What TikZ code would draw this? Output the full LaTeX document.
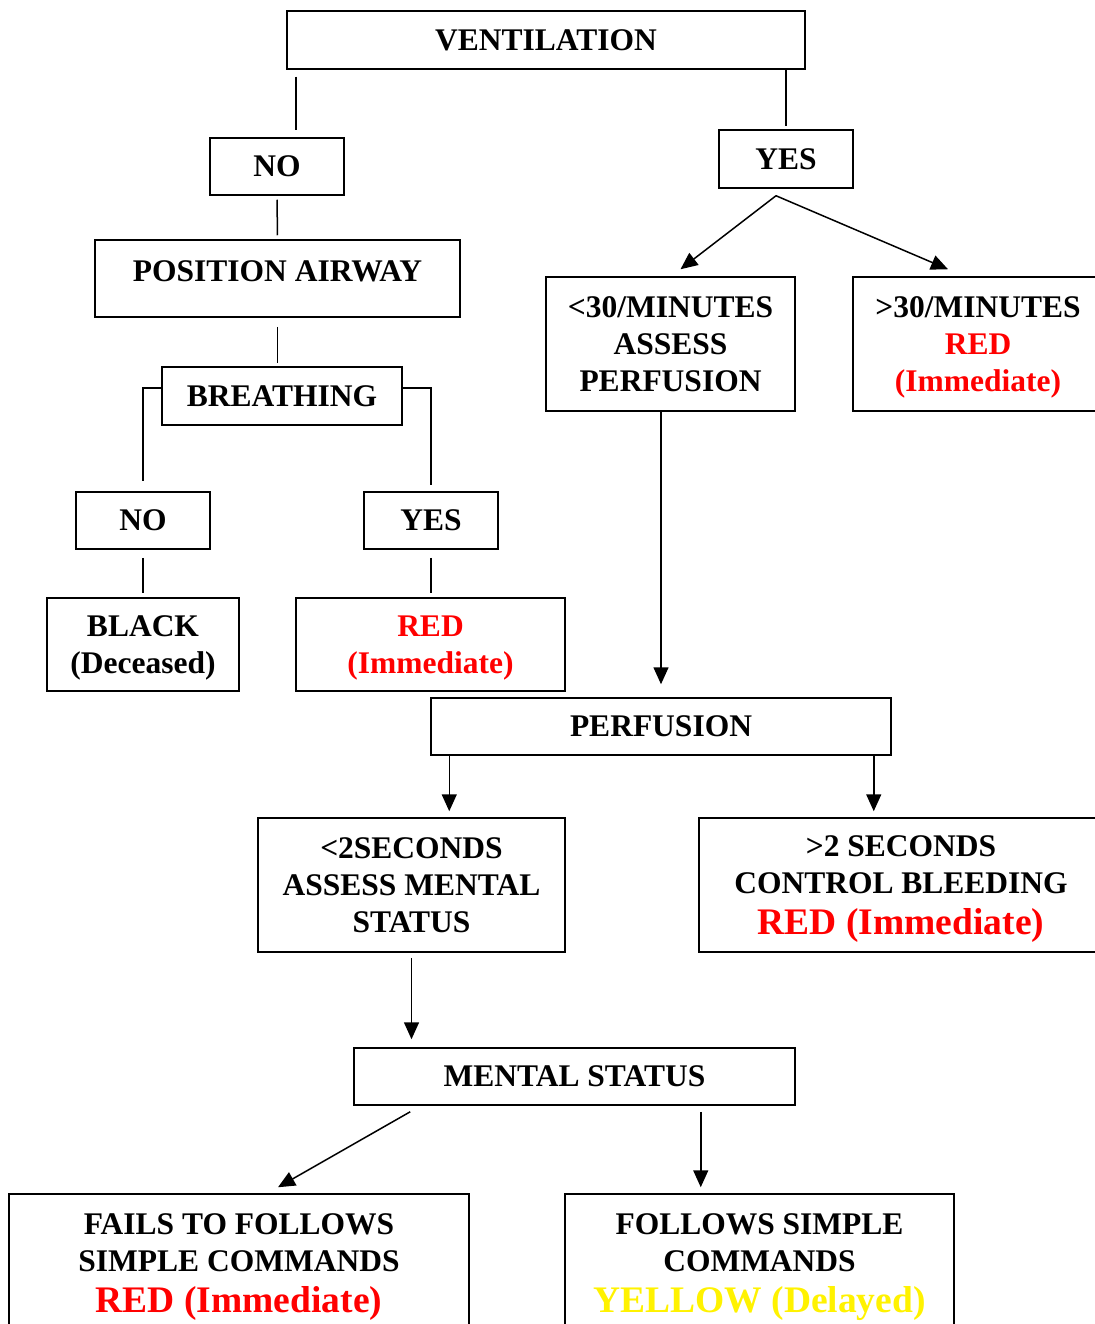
\documentclass[tikz,border=0pt]{standalone}
\usepackage{fontspec}
\setmainfont{Liberation Serif}
\usetikzlibrary{arrows.meta}
\begin{document}
\begin{tikzpicture}[x=1pt,y=-1pt,line width=1.5pt,
  box/.style={draw,line width=1.5pt,align=center,inner sep=0pt,text depth=0pt,font=\fontsize{31.5}{37}\selectfont\bfseries},
  arr/.style={-{Triangle[length=17pt,width=15pt]}}]
\useasboundingbox (0,0) rectangle (1094,1324);
% boxes
\node[box,minimum width=518,minimum height=58] (vent) at (546,40) {VENTILATION};
\node[box,minimum width=134,minimum height=57] (no1) at (277,166.5) {NO};
\node[box,minimum width=134,minimum height=58] (yes1) at (786,159) {YES};
\node[box,minimum width=365,minimum height=77,text depth=15pt] (airway) at (277.5,278.5) {POSITION AIRWAY};
\node[box,minimum width=240,minimum height=58] (breath) at (282,396) {BREATHING};
\node[box,minimum width=134,minimum height=57] (no2) at (143,520.5) {NO};
\node[box,minimum width=134,minimum height=57] (yes2) at (431,520.5) {YES};
\node[box,minimum width=192,minimum height=93,text depth=-3pt] (black) at (143,644.5) {BLACK\\(Deceased)};
\node[box,minimum width=269,minimum height=93,text depth=-3pt,text=red] (red1) at (430.5,644.5) {RED\\(Immediate)};
\node[box,minimum width=249,minimum height=134] (lt30) at (670.5,344) {<30/MINUTES\\ASSESS\\PERFUSION};
\node[box,minimum width=250,minimum height=134] (gt30) at (978,344) {>30/MINUTES\\\textcolor{red}{RED}\\\textcolor{red}{(Immediate)}};
\node[box,minimum width=460,minimum height=57] (perf) at (661,726.5) {PERFUSION};
\node[box,minimum width=307,minimum height=134] (lt2) at (411.5,885) {<2SECONDS\\ASSESS MENTAL\\STATUS};
\node[box,minimum width=404,minimum height=134,text depth=-3pt] (gt2) at (901,885) {>2 SECONDS\\CONTROL BLEEDING\\[4pt]{\fontsize{37.5}{41}\selectfont\color{red}RED (Immediate)}};
\node[box,minimum width=441,minimum height=57] (mental) at (574.5,1076.5) {MENTAL STATUS};
\node[box,minimum width=460,minimum height=138] (fails) at (239,1263) {FAILS TO FOLLOWS\\SIMPLE COMMANDS\\[4pt]{\fontsize{37.5}{41}\selectfont\color{red}RED (Immediate)}};
\node[box,minimum width=389,minimum height=138] (follows) at (759.5,1263) {FOLLOWS SIMPLE\\COMMANDS\\[4pt]{\fontsize{37.5}{41}\selectfont\color{yellow}YELLOW (Delayed)}};
% plain links
\draw[shorten <=7pt,shorten >=7pt] ([xshift=19]no1.north |- vent.south) -- ([xshift=19]no1.north);
\draw[shorten >=3pt] (yes1.north |- vent.south) -- (yes1.north);
\draw[shorten <=4pt,shorten >=4pt] (no1.south) -- (airway.north);
\draw[shorten <=9pt,shorten >=3pt] (airway.south) -- (airway.south |- breath.north);
\draw ([yshift=8]breath.west) -- ([yshift=8]breath.west -| no2.north) -- ([yshift=10]no2.north);
\draw ([yshift=8]breath.east) -- ([yshift=8]breath.east -| yes2.north) -- ([yshift=6]yes2.north);
\draw[shorten <=8pt,shorten >=4pt] (no2.south) -- (black.north);
\draw[shorten <=8pt,shorten >=4pt] (yes2.south) -- (yes2.south |- red1.north);
% arrows
\draw[arr] ([xshift=-10,yshift=-7]yes1.south) -- ([xshift=10,yshift=7]lt30.north);
\draw[arr] ([xshift=-10,yshift=-7]yes1.south) -- ([xshift=-30,yshift=7]gt30.north);
\draw[arr,shorten >=13pt] (perf.north |- lt30.south) -- (perf.north);
\draw[arr,shorten >=6pt] ([xshift=19]perf.south west) -- ([xshift=19]perf.south west |- lt2.north);
\draw[arr,shorten >=6pt] ([xshift=-18]perf.south east) -- ([xshift=-18]perf.south east |- gt2.north);
\draw[arr,shorten <=5pt,shorten >=8pt] (lt2.south) -- (lt2.south |- mental.north);
\draw[arr] ([xshift=57,yshift=-6]mental.south west) -- ([xshift=39,yshift=6]fails.north);
\draw[arr,shorten <=6pt,shorten >=6pt] ([xshift=-95]mental.south east) -- ([xshift=-95]mental.south east |- follows.north);
\end{tikzpicture}
\end{document}
